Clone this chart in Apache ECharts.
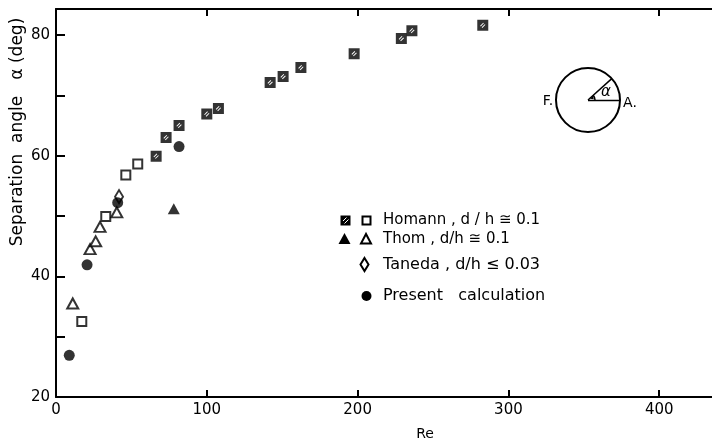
<!DOCTYPE html>
<html><head><meta charset="utf-8">
<script src="https://cdn.jsdelivr.net/npm/echarts@6/dist/echarts.min.js"></script>
<style>html,body{margin:0;padding:0;background:#fff}#c{width:712px;height:445px}</style>
</head><body><div id="c"></div>
<script>
// Data (Re, separation angle in deg)
const homannFilled = [[66.4,59.9],[73,63.0],[81.6,65.0],[100,66.9],[107.7,67.8],[142,72.1],[150.6,73.1],[162.4,74.6],[197.7,76.9],[229,79.4],[236,80.7],[283,81.6]];
const homannOpen = [[17.1,32.5],[33,49.9],[46.3,56.8],[54.2,58.6]];
const thomFilled = [[78.1,51.2]];
const thomOpen = [[11.1,35.5],[22.6,44.5],[26.3,45.8],[29.2,48.2],[40.3,50.6]];
const taneda = [[41.8,53.2]];
const present = [[8.8,26.9],[20.6,41.9],[40.9,52.2],[81.6,61.5]];
const xTickLabels = [0,100,200,300,400];
const xTicks = [100,200,300,400];
const yTickLabels = [20,40,60,80];
const yTicks = [30,40,50,60,70,80];

const FONT = 'DejaVu Sans';
const hatched = 'path://M0 0L10 0L10 10L0 10Z M2.6 5.4L3.2 6.0L6.0 3.2L5.4 2.6Z M4.0 6.8L4.6 7.4L7.4 4.6L6.8 4.0Z';

const chart = echarts.init(document.getElementById('c'), null, {renderer:'canvas'});
const axisLine = {show:true, lineStyle:{color:'#000', width:2}};
const cx = 588, cy = 100, r = 32, ang = 42*Math.PI/180;

chart.setOption({
  animation:false,
  backgroundColor:'#fff',
  grid:{left:56, right:0, top:9, bottom:48, containLabel:false},
  xAxis:[{
    type:'value', min:0, max:435, interval:100, position:'bottom',
    axisLine, splitLine:{show:false},
    axisTick:{show:true, inside:true, length:7, lineStyle:{color:'#000', width:2}, customValues:xTicks},
    axisLabel:{color:'#000', fontSize:15, fontFamily:FONT, margin:6, customValues:xTickLabels}
  },{
    type:'value', min:0, max:435, interval:100, position:'top',
    axisLine, splitLine:{show:false},
    axisTick:{show:true, inside:true, length:7, lineStyle:{color:'#000', width:2}, customValues:xTicks},
    axisLabel:{show:false}
  }],
  yAxis:{
    type:'value', min:20, max:84.3, interval:10,
    axisLine, splitLine:{show:false},
    axisTick:{show:true, inside:true, length:9, lineStyle:{color:'#000', width:2}, customValues:yTicks},
    axisLabel:{color:'#000', fontSize:15, fontFamily:FONT, margin:6, customValues:yTickLabels}
  },
  series:[
    {type:'scatter', data:homannFilled, symbol:hatched, symbolSize:11, itemStyle:{color:'#000'}},
    {type:'scatter', data:homannOpen, symbol:'rect', symbolSize:9, itemStyle:{color:'#fff', borderColor:'#000', borderWidth:2}},
    {type:'scatter', data:thomOpen, symbol:'triangle', symbolSize:[11,10], itemStyle:{color:'#fff', borderColor:'#000', borderWidth:2}},
    {type:'scatter', data:thomFilled, symbol:'triangle', symbolSize:[12,11], itemStyle:{color:'#000'}},
    {type:'scatter', data:taneda, symbol:'diamond', symbolSize:[8,13], itemStyle:{color:'#fff', borderColor:'#000', borderWidth:2}},
    {type:'scatter', data:present, symbol:'circle', symbolSize:11, itemStyle:{color:'#000'}}
  ],
  graphic:[
    {type:'text', x:18, y:132, rotation:Math.PI/2, style:{text:'Separation  angle   α (deg)', font:'17px '+FONT, fill:'#000', align:'center', verticalAlign:'middle'}},
    {type:'text', x:425, y:434, style:{text:'Re', font:'14px '+FONT, fill:'#000', align:'center', verticalAlign:'middle'}},
    // legend
    {type:'rect', shape:{x:340.5, y:215.5, width:10, height:10}, style:{fill:'#000'}},
    {type:'line', shape:{x1:343, y1:221, x2:346.5, y2:217.5}, style:{stroke:'#fff', lineWidth:1}},
    {type:'line', shape:{x1:344.5, y1:223.5, x2:348.5, y2:219.5}, style:{stroke:'#fff', lineWidth:1}},
    {type:'rect', shape:{x:362.5, y:216.5, width:8, height:8}, style:{fill:'#fff', stroke:'#000', lineWidth:2}},
    {type:'text', x:383, y:220, style:{text:'Homann , d / h ≅ 0.1', font:'15px '+FONT, fill:'#000', verticalAlign:'middle'}},
    {type:'polygon', shape:{points:[[344.5,233],[338.5,244],[350.5,244]]}, style:{fill:'#000'}},
    {type:'polygon', shape:{points:[[366,234],[361,243.5],[371,243.5]]}, style:{fill:'#fff', stroke:'#000', lineWidth:2}},
    {type:'text', x:383, y:239, style:{text:'Thom , d/h ≅ 0.1', font:'15px '+FONT, fill:'#000', verticalAlign:'middle'}},
    {type:'polygon', shape:{points:[[364.5,258],[368.5,264.5],[364.5,271],[360.5,264.5]]}, style:{fill:'#fff', stroke:'#000', lineWidth:2}},
    {type:'text', x:383, y:264.5, style:{text:'Taneda , d/h ≤ 0.03', font:'16px '+FONT, fill:'#000', verticalAlign:'middle'}},
    {type:'circle', shape:{cx:366.5, cy:296, r:5}, style:{fill:'#000'}},
    {type:'text', x:383, y:296, style:{text:'Present   calculation', font:'16px '+FONT, fill:'#000', verticalAlign:'middle'}},
    // inset
    {type:'circle', shape:{cx:cx, cy:cy, r:r}, style:{fill:'none', stroke:'#000', lineWidth:2}},
    {type:'line', shape:{x1:cx, y1:cy+0.5, x2:cx+r, y2:cy+0.5}, style:{stroke:'#000', lineWidth:1.5}},
    {type:'line', shape:{x1:cx, y1:cy, x2:cx+r*Math.cos(ang), y2:cy-r*Math.sin(ang)}, style:{stroke:'#000', lineWidth:1.5}},
    {type:'arc', shape:{cx:cx, cy:cy, r:7, startAngle:-ang, endAngle:0, clockwise:true}, style:{fill:'none', stroke:'#000', lineWidth:1.5}},
    {type:'polygon', shape:{points:[[cx+7*Math.cos(ang)-3,cy-7*Math.sin(ang)+3.5],[cx+7*Math.cos(ang),cy-7*Math.sin(ang)],[cx+7*Math.cos(ang)+0.5,cy-7*Math.sin(ang)+4]]}, style:{fill:'#000'}},
    {type:'text', x:606, y:92, style:{text:'α', font:'italic 15px '+FONT, fill:'#000', align:'center', verticalAlign:'middle'}},
    {type:'text', x:548, y:101, style:{text:'F.', font:'14px '+FONT, fill:'#000', align:'center', verticalAlign:'middle'}},
    {type:'text', x:630, y:103, style:{text:'A.', font:'14px '+FONT, fill:'#000', align:'center', verticalAlign:'middle'}}
  ]
});
</script></body></html>
